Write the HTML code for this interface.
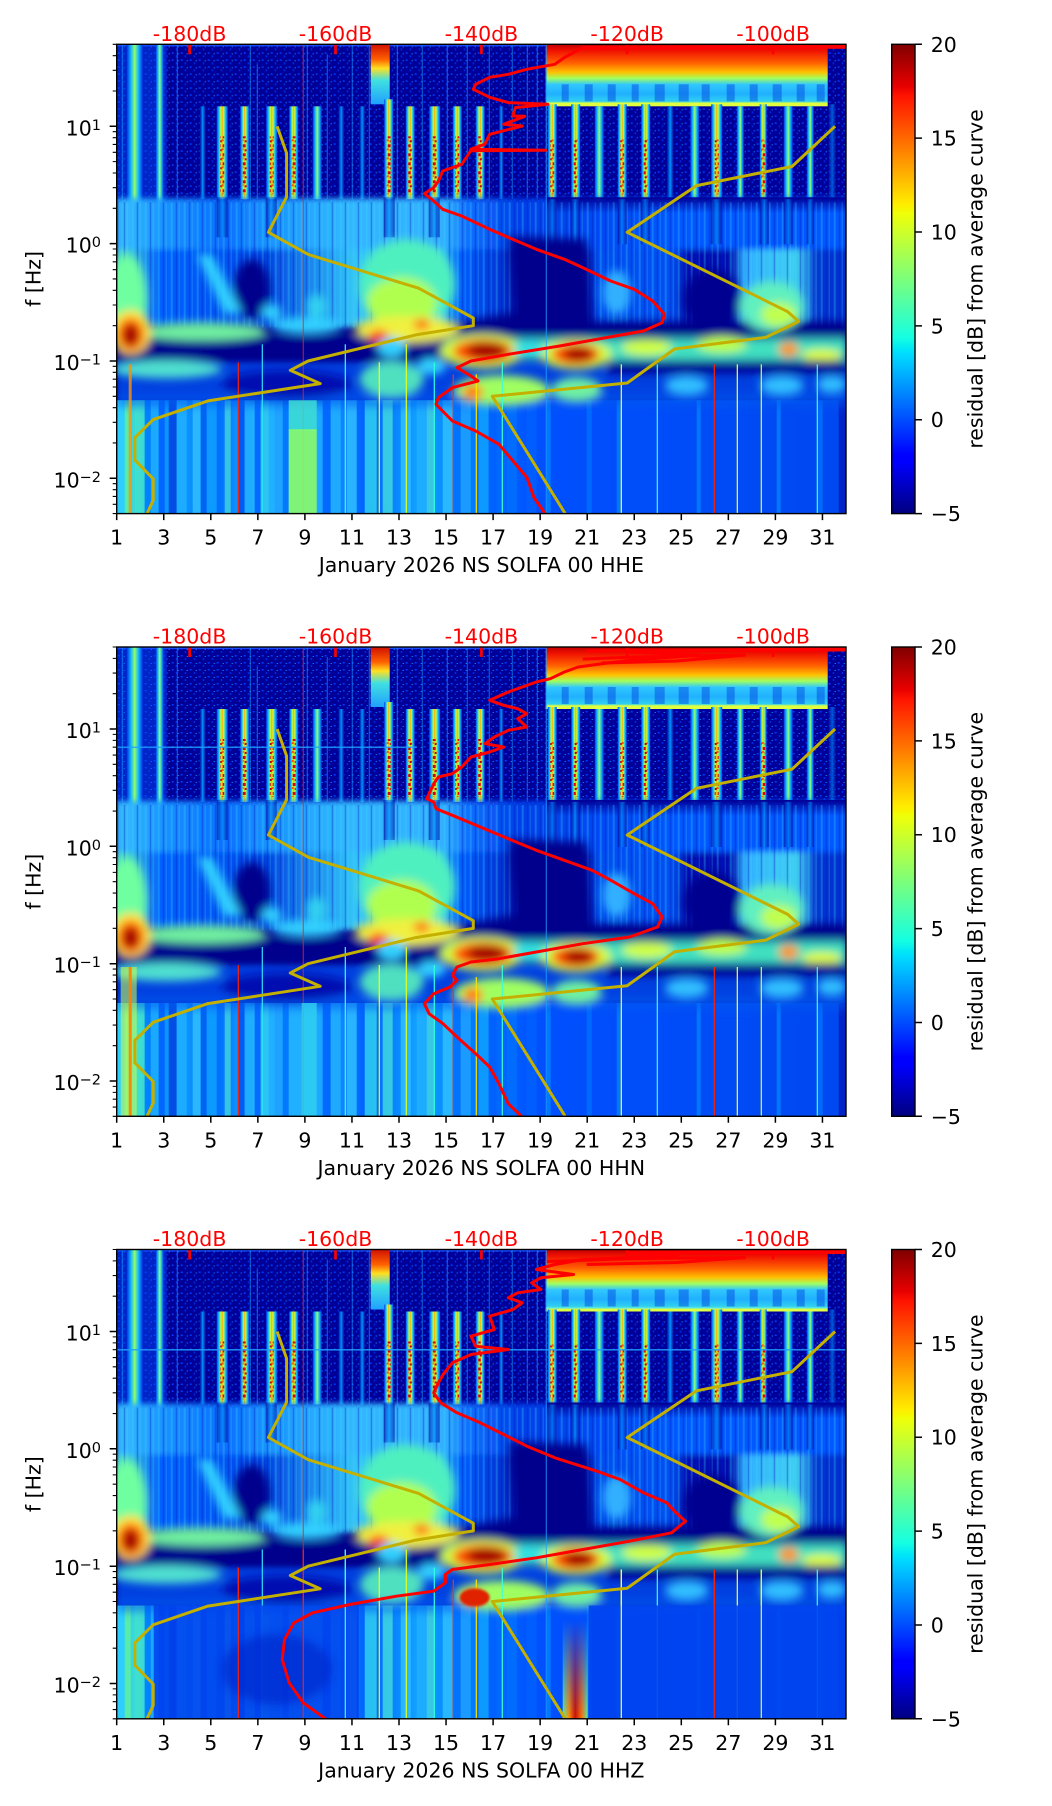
<!DOCTYPE html>
<html><head><meta charset="utf-8">
<style>
html,body{margin:0;padding:0;background:#fff;}
svg{display:block;}
text{font-family:"DejaVu Sans","Liberation Sans",sans-serif;font-size:20.5px;fill:#000;}
</style></head><body>
<svg xmlns="http://www.w3.org/2000/svg" width="1052" height="1806" viewBox="0 0 1052 1806">
<defs>
<linearGradient id="jet" x1="0" y1="1" x2="0" y2="0">
<stop offset="0" stop-color="#000080"/><stop offset="0.11" stop-color="#0000ff"/><stop offset="0.125" stop-color="#0000ff"/>
<stop offset="0.34" stop-color="#00dbff"/><stop offset="0.35" stop-color="#00e6f7"/><stop offset="0.375" stop-color="#15ffe2"/>
<stop offset="0.64" stop-color="#efff08"/><stop offset="0.65" stop-color="#f7f500"/><stop offset="0.66" stop-color="#ffec00"/>
<stop offset="0.89" stop-color="#ff1300"/><stop offset="0.91" stop-color="#e80000"/><stop offset="1" stop-color="#800000"/>
</linearGradient>
<linearGradient id="gS" x1="0" x2="1" y1="0" y2="0"><stop offset="0" stop-color="#0040f0"/><stop offset="0.2" stop-color="#10c0ff"/><stop offset="0.38" stop-color="#c0ff40"/><stop offset="0.5" stop-color="#ffb000"/><stop offset="0.62" stop-color="#c0ff40"/><stop offset="0.8" stop-color="#10c0ff"/><stop offset="1" stop-color="#0040f0"/></linearGradient>
<linearGradient id="gM" x1="0" x2="1" y1="0" y2="0"><stop offset="0" stop-color="#0030e0"/><stop offset="0.25" stop-color="#10b0ff"/><stop offset="0.5" stop-color="#90ff70"/><stop offset="0.75" stop-color="#10b0ff"/><stop offset="1" stop-color="#0030e0"/></linearGradient>
<linearGradient id="gF" x1="0" x2="1" y1="0" y2="0"><stop offset="0" stop-color="#000098"/><stop offset="0.5" stop-color="#0090ff"/><stop offset="1" stop-color="#000098"/></linearGradient>
<linearGradient id="gBlk" x1="0" x2="0" y1="0" y2="1"><stop offset="0" stop-color="#c00000"/><stop offset="0.1" stop-color="#f01000"/><stop offset="0.3" stop-color="#ff6000"/><stop offset="0.45" stop-color="#ffc000"/><stop offset="0.55" stop-color="#a0ff60"/><stop offset="0.65" stop-color="#30c8ff"/><stop offset="0.8" stop-color="#20b0ff"/><stop offset="0.92" stop-color="#30d0f0"/><stop offset="0.95" stop-color="#e0ff40"/><stop offset="1" stop-color="#e0ff40"/></linearGradient>
<linearGradient id="gBlk2" x1="0" x2="0" y1="0" y2="1"><stop offset="0" stop-color="#d01000"/><stop offset="0.25" stop-color="#ff6000"/><stop offset="0.4" stop-color="#ffe020"/><stop offset="0.6" stop-color="#40e0e0"/><stop offset="1" stop-color="#20a0ff"/></linearGradient>
<linearGradient id="fadeDark" x1="0" x2="0" y1="0" y2="1"><stop offset="0" stop-color="#000098" stop-opacity="1"/><stop offset="1" stop-color="#000098" stop-opacity="0"/></linearGradient>
<linearGradient id="gMidA" x1="0" x2="1" y1="0" y2="0">
<stop offset="0" stop-color="#38c0ff"/><stop offset="0.07" stop-color="#1890ff"/><stop offset="0.15" stop-color="#0a70ff"/><stop offset="0.2" stop-color="#1890ff"/><stop offset="0.31" stop-color="#30b8ff"/><stop offset="0.45" stop-color="#30b0ff"/><stop offset="0.48" stop-color="#1070ff"/><stop offset="0.55" stop-color="#0040e8"/><stop offset="0.64" stop-color="#0048f0"/><stop offset="0.77" stop-color="#0058ff"/><stop offset="1" stop-color="#0058ff"/></linearGradient>
<linearGradient id="gMidB" x1="0" x2="1" y1="0" y2="0">
<stop offset="0" stop-color="#50e8d0"/><stop offset="0.06" stop-color="#0060ff"/><stop offset="0.16" stop-color="#0050f0"/><stop offset="0.2" stop-color="#0040e0"/><stop offset="0.32" stop-color="#30c0f8"/><stop offset="0.44" stop-color="#40d8e8"/><stop offset="0.47" stop-color="#0060ff"/><stop offset="0.53" stop-color="#0030d0"/><stop offset="0.56" stop-color="#000098"/><stop offset="0.63" stop-color="#000098"/><stop offset="0.66" stop-color="#0050f0"/><stop offset="0.76" stop-color="#0050f0"/><stop offset="0.78" stop-color="#0010b0"/><stop offset="0.84" stop-color="#0010b0"/><stop offset="0.86" stop-color="#30b0ff"/><stop offset="0.93" stop-color="#40d0f0"/><stop offset="0.96" stop-color="#0030d0"/><stop offset="1" stop-color="#0030d0"/></linearGradient>
<linearGradient id="gBot" x1="0" x2="1" y1="0" y2="0">
<stop offset="0" stop-color="#20c0ff"/><stop offset="0.03" stop-color="#40e0d0"/><stop offset="0.045" stop-color="#0080ff"/><stop offset="0.08" stop-color="#10a0ff"/><stop offset="0.14" stop-color="#0070ff"/><stop offset="0.19" stop-color="#20b0ff"/><stop offset="0.27" stop-color="#20b0ff"/><stop offset="0.34" stop-color="#0060ff"/><stop offset="0.41" stop-color="#10a0ff"/><stop offset="0.48" stop-color="#0080ff"/><stop offset="0.57" stop-color="#0050ff"/><stop offset="1" stop-color="#0048f0"/></linearGradient>
<linearGradient id="gRedCol" x1="0" x2="1" y1="0" y2="0"><stop offset="0" stop-color="#60f0a0"/><stop offset="0.25" stop-color="#ff9000"/><stop offset="0.5" stop-color="#d01000"/><stop offset="0.75" stop-color="#ff7000"/><stop offset="1" stop-color="#60f0a0"/></linearGradient>
<linearGradient id="gRedFade" x1="0" x2="0" y1="0" y2="1"><stop offset="0" stop-color="#fff" stop-opacity="0"/><stop offset="1" stop-color="#fff" stop-opacity="1"/></linearGradient>
<mask id="rcm"><rect x="440" y="370" width="40" height="100" fill="url(#gRedFade)"/></mask>
<pattern id="spk" width="9" height="7" patternUnits="userSpaceOnUse"><rect x="1" y="1" width="2" height="1.5" fill="#0038ff"/><rect x="5" y="4" width="1.5" height="2" fill="#0028e0"/><rect x="7" y="2" width="1" height="1" fill="#10a0ff"/></pattern>
<pattern id="rsp" width="5" height="9" patternUnits="userSpaceOnUse"><rect x="1" y="1" width="3" height="3" fill="#e00000"/><rect x="0" y="5" width="2" height="2" fill="#ff5000"/><rect x="3" y="6" width="2" height="2" fill="#c00000"/></pattern>
<pattern id="strk" width="13" height="60" patternUnits="userSpaceOnUse"><rect x="2" y="0" width="2" height="60" fill="#40d0ff" opacity="0.3"/><rect x="7" y="0" width="1.5" height="60" fill="#0020c0" opacity="0.35"/><rect x="10" y="0" width="1" height="60" fill="#60e0ff" opacity="0.25"/></pattern>
<filter id="bl" filterUnits="userSpaceOnUse" x="-20" y="-20" width="771" height="510"><feGaussianBlur stdDeviation="4.5"/></filter>
<filter id="bl3" filterUnits="userSpaceOnUse" x="-20" y="-20" width="771" height="510"><feGaussianBlur stdDeviation="3"/></filter>
<filter id="bl2" filterUnits="userSpaceOnUse" x="-20" y="-20" width="771" height="510"><feGaussianBlur stdDeviation="1.2"/></filter>
<clipPath id="pc"><rect x="0" y="0" width="729.3" height="469.3"/></clipPath>

<g id="base">
<rect width="731" height="470" fill="#00008c"/>
<rect width="731" height="158" fill="#000098"/>
<rect width="731" height="158" fill="url(#spk)"/>
<rect x="0" y="0" width="50" height="158" fill="#0050ff" opacity="0.45"/>
<rect x="0" y="0" width="731" height="2" fill="#1848ff"/>
<g fill="#10a0ff" opacity="0.55">
<rect x="5" y="0" width="1.2" height="155"/><rect x="60" y="0" width="1.2" height="155"/><rect x="133" y="0" width="1.2" height="155"/><rect x="140" y="20" width="1.2" height="135"/><rect x="190" y="0" width="1.2" height="155"/><rect x="210" y="10" width="1.2" height="145"/><rect x="235" y="0" width="1.2" height="155"/><rect x="252" y="0" width="1.2" height="155"/><rect x="280" y="0" width="1.2" height="155"/><rect x="305" y="0" width="1.2" height="155"/><rect x="330" y="0" width="1.2" height="155"/><rect x="350" y="0" width="1.2" height="155"/><rect x="372" y="0" width="1.2" height="155"/><rect x="395" y="0" width="1.2" height="155"/><rect x="410" y="0" width="1.2" height="155"/><rect x="420" y="0" width="1.2" height="155"/>
</g>
<rect x="429" y="0" width="282" height="62" fill="url(#gBlk)"/>
<g fill="#0040e0" opacity="0.45">
<rect x="445" y="40" width="7" height="17"/><rect x="468" y="40" width="8" height="17"/><rect x="491" y="40" width="8" height="17"/><rect x="515" y="40" width="7" height="17"/><rect x="538" y="40" width="10" height="17"/><rect x="562" y="40" width="10" height="17"/><rect x="585" y="40" width="8" height="17"/><rect x="610" y="40" width="8" height="17"/><rect x="633" y="40" width="8" height="17"/><rect x="656" y="40" width="9" height="17"/><rect x="680" y="40" width="8" height="17"/><rect x="700" y="40" width="8" height="17"/>
</g>
<rect x="254" y="0" width="19" height="60" fill="url(#gBlk2)"/>
<g fill="url(#gM)">
<rect x="10" y="0" width="16" height="162"/><rect x="39" y="0" width="8" height="162"/>
<rect x="196" y="62" width="9" height="93"/><rect x="478" y="62" width="9" height="95"/><rect x="573.5" y="62" width="9" height="95"/><rect x="620" y="62" width="7" height="95"/><rect x="667" y="62" width="9" height="95"/><rect x="690" y="62" width="7" height="95"/>
</g>
<g fill="url(#gF)">
<rect x="83" y="62" width="6" height="93"/><rect x="221.5" y="62" width="6" height="93"/><rect x="242.5" y="62" width="6" height="93"/><rect x="382" y="62" width="5" height="93"/><rect x="550" y="62" width="7" height="95"/><rect x="711.5" y="60" width="8" height="95" opacity="0.6"/>
</g>
<g fill="url(#gS)">
<rect x="100" y="62" width="11" height="93"/><rect x="123.5" y="62" width="9" height="93"/><rect x="149.5" y="62" width="11" height="93"/><rect x="172.5" y="62" width="9" height="93"/>
<rect x="267.5" y="55" width="9" height="100"/><rect x="289" y="62" width="9" height="93"/><rect x="312.5" y="62" width="11" height="93"/><rect x="336" y="62" width="9" height="93"/><rect x="359" y="62" width="9" height="93"/>
<rect x="431" y="60" width="9" height="97"/><rect x="454.5" y="60" width="9" height="97"/><rect x="501" y="60" width="9" height="97"/><rect x="524.5" y="60" width="9" height="97"/><rect x="594.5" y="60" width="11" height="97"/><rect x="643" y="60" width="7" height="97"/>
</g>
<g fill="url(#rsp)">
<rect x="103.5" y="92" width="4" height="58"/><rect x="126" y="92" width="4" height="58"/><rect x="153" y="92" width="4" height="58"/><rect x="175" y="92" width="4" height="58"/><rect x="270" y="92" width="4" height="58"/><rect x="291.5" y="92" width="4" height="58"/><rect x="316" y="92" width="4" height="58"/><rect x="338.5" y="92" width="4" height="58"/><rect x="361.5" y="92" width="4" height="58"/><rect x="433.5" y="95" width="4" height="55"/><rect x="457" y="95" width="4" height="55"/><rect x="503.5" y="95" width="4" height="55"/><rect x="527" y="95" width="4" height="55"/><rect x="598" y="95" width="4" height="55"/><rect x="644.5" y="95" width="4" height="55"/>
</g>
<!-- mid base (softened) -->
<g filter="url(#bl3)">
<rect x="0" y="154" width="731" height="53" fill="url(#gMidA)"/>
<rect x="0" y="205" width="731" height="78" fill="url(#gMidB)"/>
<rect x="0" y="316" width="731" height="42" fill="#0040e0"/>
</g>
<rect x="430" y="153" width="301" height="16" fill="url(#fadeDark)"/>
<rect x="0" y="158" width="731" height="125" fill="url(#strk)"/>
<g fill="url(#gF)" opacity="0.6">
<rect x="100" y="153" width="11" height="40"/><rect x="149" y="153" width="11" height="40"/><rect x="267" y="153" width="11" height="40"/><rect x="312" y="153" width="11" height="40"/><rect x="431" y="155" width="9" height="45"/><rect x="454" y="155" width="9" height="45"/><rect x="501" y="155" width="9" height="45"/><rect x="524" y="155" width="9" height="45"/><rect x="594" y="155" width="11" height="45"/><rect x="643" y="155" width="9" height="45"/><rect x="667" y="155" width="9" height="45"/><rect x="690" y="155" width="7" height="45"/>
</g>
<rect x="0" y="356" width="731" height="114" fill="url(#gBot)"/>
<g opacity="0.85">
<rect x="0" y="356" width="8" height="114" fill="#30d0ff"/><rect x="8" y="356" width="6" height="114" fill="#60f0a0"/><rect x="18" y="356" width="10" height="114" fill="#40e0d0"/><rect x="28" y="356" width="6" height="114" fill="#0080ff"/><rect x="34" y="356" width="8" height="114" fill="#20b0ff"/><rect x="42" y="356" width="6" height="114" fill="#0060ff"/><rect x="52" y="356" width="8" height="114" fill="#0040e0"/><rect x="60" y="356" width="10" height="114" fill="#20b0ff"/><rect x="76" y="356" width="8" height="114" fill="#30c0ff"/><rect x="84" y="356" width="6" height="114" fill="#0060f0"/><rect x="90" y="356" width="10" height="114" fill="#10a0ff"/><rect x="108" y="356" width="6" height="114" fill="#40d0e0"/><rect x="122" y="356" width="6" height="114" fill="#0050f0"/><rect x="128" y="356" width="10" height="114" fill="#20b0ff"/><rect x="138" y="356" width="6" height="114" fill="#0060ff"/><rect x="144" y="356" width="8" height="114" fill="#30c8f0"/><rect x="158" y="356" width="8" height="114" fill="#20a0ff"/><rect x="166" y="356" width="6" height="114" fill="#0070ff"/><rect x="206" y="356" width="8" height="114" fill="#0060ff"/><rect x="214" y="356" width="10" height="114" fill="#20b0ff"/><rect x="230" y="356" width="10" height="114" fill="#30c0ff"/><rect x="248" y="356" width="12" height="114" fill="#30d0f0"/><rect x="266" y="356" width="10" height="114" fill="#40d8e0"/><rect x="284" y="356" width="10" height="114" fill="#30c0ff"/><rect x="300" y="356" width="10" height="114" fill="#20b0ff"/><rect x="310" y="356" width="8" height="114" fill="#40d0e0"/><rect x="326" y="356" width="10" height="114" fill="#30c0ff"/><rect x="336" y="356" width="8" height="114" fill="#0070ff"/><rect x="344" y="356" width="10" height="114" fill="#20a0ff"/><rect x="362" y="356" width="10" height="114" fill="#10a0ff"/><rect x="372" y="356" width="8" height="114" fill="#0060ff"/><rect x="390" y="356" width="10" height="114" fill="#0070ff"/><rect x="410" y="356" width="10" height="114" fill="#0060ff"/>
<rect x="430" y="356" width="4" height="114" fill="#0080ff"/><rect x="470" y="356" width="5" height="114" fill="#0070ff"/><rect x="500" y="356" width="4" height="114" fill="#0080ff"/><rect x="580" y="356" width="4" height="114" fill="#0080ff"/><rect x="660" y="356" width="4" height="114" fill="#0080ff"/><rect x="700" y="356" width="6" height="114" fill="#0070ff"/><rect x="722" y="356" width="9" height="114" fill="#0020c0"/>
</g>
<g filter="url(#bl)">
<rect x="0" y="350" width="731" height="12" fill="#0058f0" opacity="0.6"/>
<ellipse cx="135" cy="245" rx="18" ry="30" fill="#00008c"/>
<polygon points="392,192 470,195 476,290 330,292 330,280 398,268" fill="#00008c"/>
<rect x="330" y="277" width="401" height="16" fill="#00008c"/>
<ellipse cx="595" cy="255" rx="28" ry="30" fill="#000090"/>
<rect x="0" y="291" width="330" height="25" fill="#00008c"/>
<polygon points="80,210 95,210 125,268 108,270" fill="#30d0ff"/>
<ellipse cx="155" cy="268" rx="10" ry="8" fill="#30d0ff"/>
<ellipse cx="200" cy="262" rx="10" ry="12" fill="#30d0f0"/>
<ellipse cx="290" cy="240" rx="48" ry="45" fill="#50f0c0"/>
<ellipse cx="285" cy="258" rx="35" ry="25" fill="#b0ff50"/>
<ellipse cx="10" cy="255" rx="20" ry="45" fill="#70ffa0"/>
<ellipse cx="655" cy="262" rx="32" ry="25" fill="#60f0c0"/>
<ellipse cx="662" cy="270" rx="18" ry="12" fill="#c0ff50"/>
<ellipse cx="500" cy="248" rx="14" ry="22" fill="#30b0ff"/>
<ellipse cx="85" cy="287" rx="65" ry="9" fill="#70f0a0"/>
<ellipse cx="190" cy="281" rx="35" ry="8" fill="#30d0ff"/>
<ellipse cx="290" cy="285" rx="52" ry="13" fill="#f0f040"/>
<ellipse cx="262" cy="292" rx="10" ry="6" fill="#ff3000"/>
<ellipse cx="305" cy="280" rx="8" ry="5" fill="#ff6000"/>
<ellipse cx="14" cy="288" rx="20" ry="22" fill="#ffe030"/>
<ellipse cx="14" cy="290" rx="13" ry="16" fill="#ff5000"/>
<ellipse cx="14" cy="291" rx="8" ry="11" fill="#a00000"/>
<rect x="330" y="294" width="401" height="22" fill="#40e0c0"/>
<ellipse cx="530" cy="303" rx="25" ry="8" fill="#d0ff40"/>
<ellipse cx="605" cy="300" rx="25" ry="8" fill="#c0ff40"/>
<ellipse cx="672" cy="305" rx="10" ry="7" fill="#ff9000"/>
<ellipse cx="705" cy="311" rx="20" ry="6" fill="#e0ff30"/>
<ellipse cx="275" cy="303" rx="14" ry="10" fill="#30d0ff"/>
<ellipse cx="366" cy="307" rx="42" ry="17" fill="#d0ff40"/>
<ellipse cx="366" cy="307" rx="30" ry="12" fill="#ff5000"/>
<ellipse cx="370" cy="306" rx="20" ry="8" fill="#a00000"/>
<ellipse cx="459" cy="310" rx="36" ry="15" fill="#d0ff40"/>
<ellipse cx="459" cy="310" rx="24" ry="11" fill="#ff5000"/>
<ellipse cx="462" cy="310" rx="15" ry="7" fill="#a00000"/>
<ellipse cx="412" cy="305" rx="15" ry="10" fill="#30e0e0"/>
<ellipse cx="50" cy="325" rx="55" ry="9" fill="#50e0d0"/>
<ellipse cx="170" cy="340" rx="65" ry="14" fill="#0010b0"/>
<ellipse cx="275" cy="335" rx="32" ry="18" fill="#50e0c0"/>
<ellipse cx="315" cy="322" rx="14" ry="8" fill="#30d0ff"/>
<ellipse cx="385" cy="346" rx="48" ry="15" fill="#a0ff60"/>
<ellipse cx="356" cy="348" rx="10" ry="8" fill="#ff8000"/>
<ellipse cx="460" cy="345" rx="25" ry="12" fill="#70f0a0"/>
<rect x="490" y="316" width="241" height="13" fill="#000090"/>
<ellipse cx="570" cy="341" rx="22" ry="9" fill="#30c0ff"/>
<ellipse cx="665" cy="341" rx="22" ry="9" fill="#30c0ff"/>
<ellipse cx="715" cy="340" rx="15" ry="8" fill="#30c0ff"/>
</g>
<g>
<rect x="186" y="0" width="1.2" height="470" fill="#ff2000" opacity="0.7"/>
<rect x="429" y="0" width="1.2" height="470" fill="#20a0ff" opacity="0.7"/>
<rect x="121" y="318" width="1.2" height="152" fill="#ff2000"/>
<rect x="145" y="300" width="1.2" height="170" fill="#30e0ff"/>
<rect x="228" y="300" width="1.2" height="170" fill="#40ffe0"/>
<rect x="262" y="318" width="1.2" height="152" fill="#ffff00"/>
<rect x="289" y="300" width="1.2" height="170" fill="#e0ff20"/>
<rect x="317" y="318" width="1.2" height="152" fill="#30ffe0"/>
<rect x="336" y="330" width="1.2" height="140" fill="#ff3000"/>
<rect x="359" y="330" width="1.2" height="140" fill="#ffe000"/>
<rect x="385" y="318" width="1.2" height="152" fill="#40ffd0"/>
<rect x="504" y="320" width="1.2" height="150" fill="#ffff40"/>
<rect x="540" y="320" width="1.2" height="150" fill="#40ffe0"/>
<rect x="597" y="320" width="1.2" height="150" fill="#ff2000"/>
<rect x="620" y="320" width="1.2" height="150" fill="#ffff40"/>
<rect x="644" y="320" width="1.2" height="150" fill="#e0ff30"/>
<rect x="700" y="320" width="1.2" height="150" fill="#40ffd0"/>
</g>
</g>

<g id="models" fill="none" stroke="#c4b000" stroke-width="3" stroke-linejoin="round">
<polyline points="160.4,82 169.9,109 169.9,152.7 151.7,188 191.8,210.3 301.9,243.9 356.6,273.7 356.6,281.4 299,290.6 191.4,316.7 173.6,326 203.5,339.3 91.2,356.6 36.5,375.3 18.2,393.3 18.2,415.8 36.5,434.5 36.5,456 30.3,469.3"/>
<polyline points="718.4,82 675.3,122.2 579.8,141.3 510.5,188 671,267.4 681.9,277.1 649.1,293.1 557.9,304.7 510.5,338.7 375.6,352 448.5,469.3"/>
</g>

<g id="ticks" stroke="#000" fill="none">
<path stroke-width="1.5" d="M116.7,469.3v6.5M163.75,469.3v6.5M210.8,469.3v6.5M257.86,469.3v6.5M304.9,469.3v6.5M351.96,469.3v6.5M399,469.3v6.5M446.05,469.3v6.5M493.1,469.3v6.5M540.15,469.3v6.5M587.2,469.3v6.5M634.25,469.3v6.5M681.3,469.3v6.5M728.35,469.3v6.5M775.4,469.3v6.5M822.45,469.3v6.5M109.7,82h7M109.7,199.3h7M109.7,316.7h7M109.7,434h7M915,0h7M915,93.86h7M915,187.72h7M915,281.58h7M915,375.44h7M915,469.3h7"/>
<path stroke-width="1.1" d="M112.7,0h4M112.7,11.37h4M112.7,26.03h4M112.7,46.69h4M112.7,87.38h4M112.7,93.38h4M112.7,100.18h4M112.7,108.04h4M112.7,117.33h4M112.7,128.7h4M112.7,143.36h4M112.7,164.02h4M112.7,204.71h4M112.7,210.71h4M112.7,217.51h4M112.7,225.37h4M112.7,234.66h4M112.7,246.03h4M112.7,260.69h4M112.7,281.35h4M112.7,322.04h4M112.7,328.04h4M112.7,334.84h4M112.7,342.7h4M112.7,351.99h4M112.7,363.36h4M112.7,378.02h4M112.7,398.68h4M112.7,439.37h4M112.7,445.37h4M112.7,452.17h4M112.7,460.03h4M112.7,469.3h4"/>
<path stroke="#ff0000" stroke-width="2.7" d="M189.6,0v10M335.5,0v10M481.4,0v10M627.2,0v10M773.1,0v10"/>
<rect x="116.7" y="0" width="729.3" height="469.3" stroke-width="1.4"/>
<rect x="891.7" y="0" width="23.3" height="469.3" fill="url(#jet)" stroke-width="1.4"/>
</g>
</defs>

<!-- ================= PANEL 1 ================= -->
<g transform="translate(0,44.3)">
<g transform="translate(116.7,0)"><g clip-path="url(#pc)">
<use href="#base"/>
<rect x="172" y="356" width="28" height="30" fill="#40e0d0" opacity="0.8"/>
<rect x="172" y="385" width="28" height="85" fill="#90ff60" opacity="0.85"/>
<rect x="12" y="320" width="3" height="150" fill="#ff9000" opacity="0.8"/>
<use href="#models"/>
<polyline fill="none" stroke="#ff0000" stroke-width="3" stroke-linejoin="round" points="731,1.7 466,3.3 447.6,13.3 438,20 410,25 391.6,30 373,33 359,40 356.6,45 373,53 391.6,58.3 431,60 398.6,63.3 396,71.7 408,72 387,80 405.6,81.7 373,90 368,100 354,105 429,106 354,106.5 345,120 326,126.7 321.7,136.7 317,143.3 307.7,149.3 317,156.7 326,165 345,171.7 373,185 396,195 419.6,205 447.6,215 466,223.3 494,236.7 517.5,245 536,256.7 547.8,270 545.5,278.3 526.8,286.7 489.5,293.3 443,301.7 391.6,310 354.3,316.7 340.3,323.3 354.3,331.7 361.3,336.7 335.7,343.3 321.7,353.3 319.3,360 335.7,376.7 359,386.7 382.3,400 396.3,416.7 410.3,433.3 417.3,453.3 428.9,470"/>
<polyline fill="none" stroke="#ff0000" stroke-width="3" points="466,4 731,3"/>
</g></g>
<use href="#ticks"/>
<g text-anchor="middle">
<text x="189.6" y="-3.5" style="fill:#ff0000">-180dB</text><text x="335.5" y="-3.5" style="fill:#ff0000">-160dB</text><text x="481.4" y="-3.5" style="fill:#ff0000">-140dB</text><text x="627.2" y="-3.5" style="fill:#ff0000">-120dB</text><text x="773.1" y="-3.5" style="fill:#ff0000">-100dB</text>
</g>
<g text-anchor="middle">
<text x="116.7" y="500.3">1</text><text x="163.75" y="500.3">3</text><text x="210.8" y="500.3">5</text><text x="257.86" y="500.3">7</text><text x="304.9" y="500.3">9</text><text x="351.96" y="500.3">11</text><text x="399" y="500.3">13</text><text x="446.05" y="500.3">15</text><text x="493.1" y="500.3">17</text><text x="540.15" y="500.3">19</text><text x="587.2" y="500.3">21</text><text x="634.25" y="500.3">23</text><text x="681.3" y="500.3">25</text><text x="728.35" y="500.3">27</text><text x="775.4" y="500.3">29</text><text x="822.45" y="500.3">31</text>
<text x="481.3" y="527.9">January 2026 NS SOLFA 00 HHE</text>
<text transform="translate(40.5,234.65) rotate(-90)">f [Hz]</text>
<text transform="translate(982.5,234.65) rotate(-90)">residual [dB] from average curve</text>
</g>
<g text-anchor="end">
<text x="101" y="91">10<tspan dy="-5.5" font-size="14.5">1</tspan></text>
<text x="101" y="208.3">10<tspan dy="-5.5" font-size="14.5">0</tspan></text>
<text x="101" y="325.7">10<tspan dy="-5.5" font-size="14.5">−1</tspan></text>
<text x="101" y="443">10<tspan dy="-5.5" font-size="14.5">−2</tspan></text>
</g>
<g>
<text x="930.7" y="7.5">20</text><text x="930.7" y="101.4">15</text><text x="930.7" y="195.2">10</text><text x="930.7" y="289.1">5</text><text x="930.7" y="382.9">0</text><text x="930.7" y="476.8">−5</text>
</g>
</g>

<!-- ================= PANEL 2 ================= -->
<g transform="translate(0,647)">
<g transform="translate(116.7,0)"><g clip-path="url(#pc)">
<use href="#base"/>
<rect x="0" y="99.5" width="300" height="1.6" fill="#20a0ff" opacity="0.8"/>
<rect x="185" y="356" width="15" height="114" fill="#30d0f0" opacity="0.8"/>
<rect x="4" y="320" width="16" height="150" fill="#d0ff40" opacity="0.55"/>
<rect x="12" y="320" width="3" height="150" fill="#ff8000" opacity="0.9"/>
<use href="#models"/>
<polyline fill="none" stroke="#ff0000" stroke-width="3" stroke-linejoin="round" points="731,1.7 629,2.7 513,5 582.8,8.3 513,13.3 485,16.7 461.5,20 447.6,25 433.6,31.7 419.6,35 405.6,40 391.6,45 373,53.3 387,58.3 401,61.7 410,66.7 401,71.7 410,80 391.6,83.3 377.6,90 368.3,96.7 387,100 373,105 354.3,110 345,120 335.7,126.7 321.7,130 317,136.7 312.4,146.7 310,151.7 317,155 319.3,161.7 335.7,168.3 363.6,180 391.6,191.7 419.6,203.3 447.6,213.3 475.5,223.3 494.2,233.3 517.5,246.7 536.1,256.7 545.5,270 540.8,280 512.8,290 466.2,296.7 419.6,305 382.3,311.7 354.3,315 340.3,320 335.7,328.3 340.3,333.3 333.3,340 317,346.7 307.7,356.7 312.4,366.7 326.3,376.7 340.3,390 359,406.7 373,420 382.3,436.7 391.6,456.7 405.6,470"/>
<polyline fill="none" stroke="#ff0000" stroke-width="3" points="466,12 520,10 629,8 560,14 485,16"/>
<polyline fill="none" stroke="#ff0000" stroke-width="3" points="470,4 731,3"/>
</g></g>
<use href="#ticks"/>
<g text-anchor="middle">
<text x="189.6" y="-3.5" style="fill:#ff0000">-180dB</text><text x="335.5" y="-3.5" style="fill:#ff0000">-160dB</text><text x="481.4" y="-3.5" style="fill:#ff0000">-140dB</text><text x="627.2" y="-3.5" style="fill:#ff0000">-120dB</text><text x="773.1" y="-3.5" style="fill:#ff0000">-100dB</text>
</g>
<g text-anchor="middle">
<text x="116.7" y="500.3">1</text><text x="163.75" y="500.3">3</text><text x="210.8" y="500.3">5</text><text x="257.86" y="500.3">7</text><text x="304.9" y="500.3">9</text><text x="351.96" y="500.3">11</text><text x="399" y="500.3">13</text><text x="446.05" y="500.3">15</text><text x="493.1" y="500.3">17</text><text x="540.15" y="500.3">19</text><text x="587.2" y="500.3">21</text><text x="634.25" y="500.3">23</text><text x="681.3" y="500.3">25</text><text x="728.35" y="500.3">27</text><text x="775.4" y="500.3">29</text><text x="822.45" y="500.3">31</text>
<text x="481.3" y="527.9">January 2026 NS SOLFA 00 HHN</text>
<text transform="translate(40.5,234.65) rotate(-90)">f [Hz]</text>
<text transform="translate(982.5,234.65) rotate(-90)">residual [dB] from average curve</text>
</g>
<g text-anchor="end">
<text x="101" y="91">10<tspan dy="-5.5" font-size="14.5">1</tspan></text>
<text x="101" y="208.3">10<tspan dy="-5.5" font-size="14.5">0</tspan></text>
<text x="101" y="325.7">10<tspan dy="-5.5" font-size="14.5">−1</tspan></text>
<text x="101" y="443">10<tspan dy="-5.5" font-size="14.5">−2</tspan></text>
</g>
<g>
<text x="930.7" y="7.5">20</text><text x="930.7" y="101.4">15</text><text x="930.7" y="195.2">10</text><text x="930.7" y="289.1">5</text><text x="930.7" y="382.9">0</text><text x="930.7" y="476.8">−5</text>
</g>
</g>

<!-- ================= PANEL 3 ================= -->
<g transform="translate(0,1249.5)">
<g transform="translate(116.7,0)"><g clip-path="url(#pc)">
<use href="#base"/>
<rect x="0" y="99.5" width="731" height="1.6" fill="#20a0ff" opacity="0.8"/>
<rect x="429" y="57.5" width="282" height="1.6" fill="#40e0ff" opacity="0.8"/>
<rect x="37" y="356" width="205" height="114" fill="#0040ec" opacity="0.85"/>
<ellipse cx="160" cy="420" rx="55" ry="35" fill="#0020c8" opacity="0.6" filter="url(#bl)"/>
<rect x="472" y="356" width="259" height="114" fill="#0044f0" opacity="0.9"/>
<g mask="url(#rcm)"><rect x="446" y="370" width="25" height="100" fill="url(#gRedCol)"/></g>
<ellipse cx="358" cy="348" rx="15" ry="9" fill="#e02000" filter="url(#bl2)"/>
<rect x="121" y="318" width="1.2" height="152" fill="#ff2000"/>
<rect x="186" y="300" width="1.2" height="170" fill="#ff2000"/>
<rect x="228" y="300" width="1.2" height="170" fill="#40ffe0"/>
<rect x="504" y="320" width="1.2" height="150" fill="#ffff40"/>
<rect x="597" y="320" width="1.2" height="150" fill="#ff2000"/>
<rect x="644" y="320" width="1.2" height="150" fill="#e0ff30"/>
<use href="#models"/>
<polyline fill="none" stroke="#ff0000" stroke-width="3" stroke-linejoin="round" points="731,1.7 512.8,3.3 560,6 466,10 438,15 419.6,20 456.9,25 424.2,28.3 414.9,33.3 424.2,40 401,43.3 391.6,48.3 405.6,53.3 396.3,60 373,66.7 377.6,80 354.3,86.7 359,96.7 391.6,100 354.3,105 335.7,113.3 326.3,125 321.7,133.3 317,143.3 324,153.3 340.3,163.3 363.6,173.3 387,185 410.3,196.7 438.2,208.3 480.2,221.7 503.5,230 526.8,243.3 550.1,253.3 559.4,263.3 568.8,271.7 554.8,283.3 512.8,291.7 466.2,300 419.6,308.3 373,315 335.7,320 328.7,325 328.7,333.3 317,341.7 279.7,346.7 233.1,355 195.8,363.3 177.2,373.3 167.8,390 165.5,410 172.5,433.3 186.5,453.3 205.1,466.7 209.8,470"/>
<polyline fill="none" stroke="#ff0000" stroke-width="3" points="430,12 520,9 629,8 560,13 470,15"/>
<polyline fill="none" stroke="#ff0000" stroke-width="3" points="512,4 731,3"/>
</g></g>
<use href="#ticks"/>
<g text-anchor="middle">
<text x="189.6" y="-3.5" style="fill:#ff0000">-180dB</text><text x="335.5" y="-3.5" style="fill:#ff0000">-160dB</text><text x="481.4" y="-3.5" style="fill:#ff0000">-140dB</text><text x="627.2" y="-3.5" style="fill:#ff0000">-120dB</text><text x="773.1" y="-3.5" style="fill:#ff0000">-100dB</text>
</g>
<g text-anchor="middle">
<text x="116.7" y="500.3">1</text><text x="163.75" y="500.3">3</text><text x="210.8" y="500.3">5</text><text x="257.86" y="500.3">7</text><text x="304.9" y="500.3">9</text><text x="351.96" y="500.3">11</text><text x="399" y="500.3">13</text><text x="446.05" y="500.3">15</text><text x="493.1" y="500.3">17</text><text x="540.15" y="500.3">19</text><text x="587.2" y="500.3">21</text><text x="634.25" y="500.3">23</text><text x="681.3" y="500.3">25</text><text x="728.35" y="500.3">27</text><text x="775.4" y="500.3">29</text><text x="822.45" y="500.3">31</text>
<text x="481.3" y="527.9">January 2026 NS SOLFA 00 HHZ</text>
<text transform="translate(40.5,234.65) rotate(-90)">f [Hz]</text>
<text transform="translate(982.5,234.65) rotate(-90)">residual [dB] from average curve</text>
</g>
<g text-anchor="end">
<text x="101" y="91">10<tspan dy="-5.5" font-size="14.5">1</tspan></text>
<text x="101" y="208.3">10<tspan dy="-5.5" font-size="14.5">0</tspan></text>
<text x="101" y="325.7">10<tspan dy="-5.5" font-size="14.5">−1</tspan></text>
<text x="101" y="443">10<tspan dy="-5.5" font-size="14.5">−2</tspan></text>
</g>
<g>
<text x="930.7" y="7.5">20</text><text x="930.7" y="101.4">15</text><text x="930.7" y="195.2">10</text><text x="930.7" y="289.1">5</text><text x="930.7" y="382.9">0</text><text x="930.7" y="476.8">−5</text>
</g>
</g>
</svg>
</body></html>
